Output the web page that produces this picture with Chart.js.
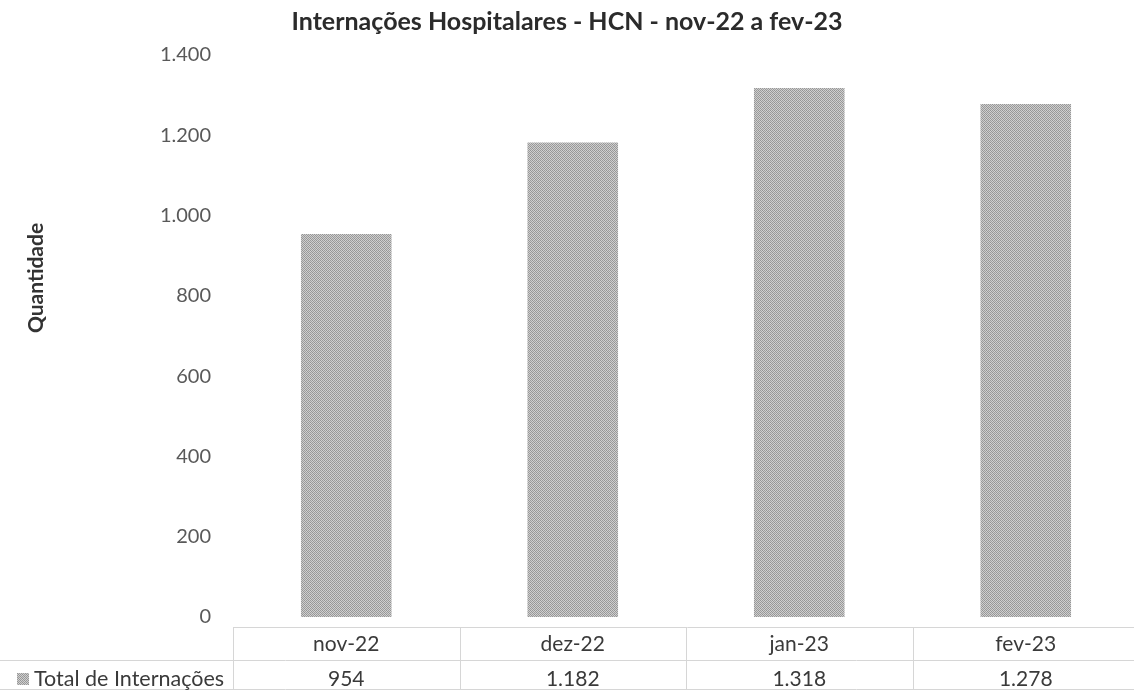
<!DOCTYPE html>
<html>
<head>
<meta charset="utf-8">
<script src="https://cdn.jsdelivr.net/npm/chart.js@4"></script>
<style>
  html, body { margin: 0; padding: 0; background: #ffffff; overflow: hidden; }
  #wrap { position: relative; width: 1142px; height: 691px; }
</style>
</head>
<body>
<div id="wrap"><canvas id="c"></canvas></div>
<script>
// ---- data ----
const categories = ['nov-22', 'dez-22', 'jan-23', 'fev-23'];
const seriesName = 'Total de Internações';
const internacoes = [954, 1182, 1318, 1278];
const yMin = 0, yMax = 1400, yStep = 200;
const chartTitle = 'Internações Hospitalares - HCN - nov-22 a fev-23';
const yAxisTitle = 'Quantidade';

function fmt(v) {
  return String(v).replace(/\B(?=(\d{3})+(?!\d))/g, '.');
}

// dithered gray fill, like the scanned original (fixed 4x4 tile)
const tile = [
  [0x94, 0xd0, 0x9c, 0xcc],
  [0xd2, 0x98, 0xc8, 0xa0],
  [0x9a, 0xce, 0x92, 0xd0],
  [0xca, 0x9e, 0xd4, 0x96]
];
const pc = document.createElement('canvas');
pc.width = 4; pc.height = 4;
const pctx = pc.getContext('2d');
tile.forEach((row, y) => row.forEach((g, x) => {
  pctx.fillStyle = 'rgb(' + g + ',' + g + ',' + g + ')';
  pctx.fillRect(x, y, 1, 1);
}));
const ctx0 = document.getElementById('c').getContext('2d');
const barFill = ctx0.createPattern(pc, 'repeat');

const FONT = 'Lato, "Open Sans", "Liberation Sans", sans-serif';

const tablePlugin = {
  id: 'tablePlugin',
  afterDraw(chart) {
    const ctx = chart.ctx;
    const xs = chart.scales.x;
    const area = chart.chartArea;
    const n = categories.length;
    const colW = (area.right - area.left) / n;
    const top = 627, mid = 660, bot = 689;
    ctx.save();
    // title
    ctx.fillStyle = '#2b2b2b';
    ctx.font = 'bold 25px ' + FONT;
    ctx.textAlign = 'center';
    ctx.textBaseline = 'middle';
    ctx.fillText(chartTitle, 567, 22);
    // y axis title
    ctx.save();
    ctx.translate(36, 278);
    ctx.rotate(-Math.PI / 2);
    ctx.font = 'bold 21px ' + FONT;
    ctx.fillStyle = '#333333';
    ctx.fillText(yAxisTitle, 0, 0);
    ctx.restore();
    // table grid
    ctx.strokeStyle = '#d6d6d6';
    ctx.lineWidth = 1;
    ctx.beginPath();
    ctx.moveTo(area.left, top + 0.5); ctx.lineTo(chart.width, top + 0.5);
    ctx.moveTo(0, mid + 0.5); ctx.lineTo(chart.width, mid + 0.5);
    ctx.moveTo(0, bot + 0.5); ctx.lineTo(chart.width, bot + 0.5);
    for (let i = 0; i <= n; i++) {
      const x = Math.round(area.left + i * colW) + 0.5;
      ctx.moveTo(x, top); ctx.lineTo(x, bot);
    }
    ctx.stroke();
    // values row
    ctx.font = '21px ' + FONT;
    ctx.fillStyle = '#3a3a3a';
    ctx.textAlign = 'center';
    internacoes.forEach((v, i) => {
      ctx.fillText(fmt(v), xs.getPixelForValue(i), 679);
    });
    // legend key + row label
    ctx.fillStyle = barFill;
    ctx.fillRect(17, 673, 12, 12);
    ctx.fillStyle = '#3a3a3a';
    ctx.textAlign = 'left';
    ctx.font = '21.5px ' + FONT;
    ctx.fillText(seriesName, 34, 679);
    ctx.restore();
  }
};

new Chart(document.getElementById('c'), {
  type: 'bar',
  data: {
    labels: categories,
    datasets: [{
      label: seriesName,
      data: internacoes,
      backgroundColor: barFill,
      borderWidth: 0,
      categoryPercentage: 1.0,
      barPercentage: 0.40
    }]
  },
  options: {
    responsive: true,
    maintainAspectRatio: false,
    animation: false,
    layout: { padding: { top: 55, right: 3, bottom: 0, left: 0 } },
    plugins: {
      legend: { display: false },
      title: { display: false },
      tooltip: { enabled: false }
    },
    scales: {
      x: {
        grid: { display: false, drawTicks: false },
        border: { display: false },
        ticks: {
          color: '#3a3a3a',
          font: { family: FONT, size: 21 },
          padding: 15
        },
        afterFit(s) { s.height = 74; }
      },
      y: {
        min: yMin, max: yMax,
        grid: { display: false, drawTicks: false },
        border: { display: false },
        ticks: {
          stepSize: yStep,
          color: '#595959',
          font: { family: FONT, size: 20 },
          padding: 22,
          callback: (v) => fmt(v)
        },
        afterFit(s) { s.width = 233; }
      }
    }
  },
  plugins: [tablePlugin]
});
</script>
</body>
</html>
